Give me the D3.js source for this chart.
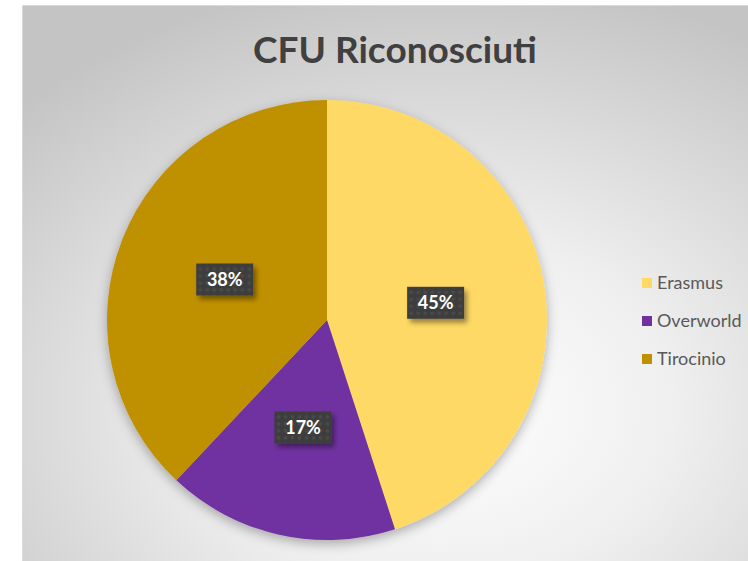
<!DOCTYPE html>
<html>
<head>
<meta charset="utf-8">
<script src="https://cdn.jsdelivr.net/npm/d3@7/dist/d3.min.js"></script>
<style>
  html, body { margin: 0; padding: 0; background: #ffffff; }
  svg { display: block; }
</style>
</head>
<body>
<svg id="chart" width="748" height="561"></svg>
<script>
// Recognised credits (CFU) by source
const categories = ["Erasmus", "Overworld", "Tirocinio"];
const values = [45, 17, 38];
const colors = ["#FFD966", "#7030A0", "#BF9000"];
const chartTitle = "CFU Riconosciuti";

const W = 748, H = 561;
const svg = d3.select("#chart");
const defs = svg.append("defs");

// chart area background: soft radial grey
const bg = defs.append("radialGradient").attr("id", "bgGrad")
  .attr("cx", "56%").attr("cy", "72%").attr("r", "78%");
bg.append("stop").attr("offset", "0%").attr("stop-color", "#ffffff");
bg.append("stop").attr("offset", "40%").attr("stop-color", "#efefef");
bg.append("stop").attr("offset", "100%").attr("stop-color", "#c4c4c4");

// pie shadow
const ps = defs.append("filter").attr("id", "pieShadow")
  .attr("x", "-20%").attr("y", "-20%").attr("width", "140%").attr("height", "140%");
ps.append("feDropShadow").attr("dx", 0).attr("dy", 4).attr("stdDeviation", 6)
  .attr("flood-color", "#000").attr("flood-opacity", 0.3);

// label box shadow
const ls = defs.append("filter").attr("id", "lblShadow")
  .attr("x", "-30%").attr("y", "-30%").attr("width", "170%").attr("height", "170%");
ls.append("feDropShadow").attr("dx", 3).attr("dy", 4).attr("stdDeviation", 2.5)
  .attr("flood-color", "#000").attr("flood-opacity", 0.4);

// dotted fill for data label boxes
const pat = defs.append("pattern").attr("id", "dots")
  .attr("patternUnits", "userSpaceOnUse").attr("width", 7).attr("height", 7);
pat.append("rect").attr("width", 7).attr("height", 7).attr("fill", "#3e3e3e");
pat.append("circle").attr("cx", 3.5).attr("cy", 3.5).attr("r", 1.8).attr("fill", "#4a4a4a");

svg.append("rect")
  .attr("x", 22.5).attr("y", 5.5).attr("width", W).attr("height", H)
  .attr("fill", "url(#bgGrad)").attr("stroke", "#d9d9d9").attr("stroke-width", 1);

svg.append("text")
  .attr("x", 395).attr("y", 63)
  .attr("text-anchor", "middle")
  .attr("font-family", "Lato, 'Open Sans', sans-serif")
  .attr("font-weight", "bold")
  .attr("font-size", 37)
  .attr("fill", "#404040")
  .text(chartTitle);

const cx = 327, cy = 320, R = 220;
const data = categories.map((c, i) => ({ name: c, value: values[i], color: colors[i] }));
const pie = d3.pie().value(d => d.value).sort(null);
const arc = d3.arc().innerRadius(0).outerRadius(R);
const arcs = pie(data);

const g = svg.append("g").attr("transform", `translate(${cx},${cy})`);
g.append("g").attr("filter", "url(#pieShadow)")
  .selectAll("path").data(arcs).join("path")
  .attr("d", arc)
  .attr("fill", d => d.data.color);

const total = d3.sum(values);
const fmt = d => Math.round(d / total * 100) + "%";

const lbl = g.selectAll("g.lbl").data(arcs).join("g")
  .attr("class", "lbl")
  .attr("transform", d => `translate(${arc.centroid(d)})`);
lbl.append("rect")
  .attr("x", -28.5).attr("y", -16).attr("width", 57).attr("height", 32)
  .attr("fill", "url(#dots)")
  .attr("filter", "url(#lblShadow)");
lbl.append("text")
  .attr("text-anchor", "middle").attr("dy", "0.36em")
  .attr("font-family", "Lato, 'Open Sans', sans-serif")
  .attr("font-weight", "bold").attr("font-size", 18)
  .attr("fill", "#ffffff")
  .text(d => fmt(d.data.value));

// legend
const legendY = d3.scalePoint().domain(categories).range([283, 359]);
const lg = svg.append("g");
const item = lg.selectAll("g").data(data).join("g")
  .attr("transform", d => `translate(642,${legendY(d.name)})`);
item.append("rect").attr("x", 0).attr("y", -5).attr("width", 10).attr("height", 10)
  .attr("fill", d => d.color);
item.append("text").attr("x", 15).attr("dy", "0.36em")
  .attr("font-family", "Lato, 'Open Sans', sans-serif")
  .attr("font-size", 18).attr("fill", "#595959")
  .text(d => d.name);
</script>
</body>
</html>
